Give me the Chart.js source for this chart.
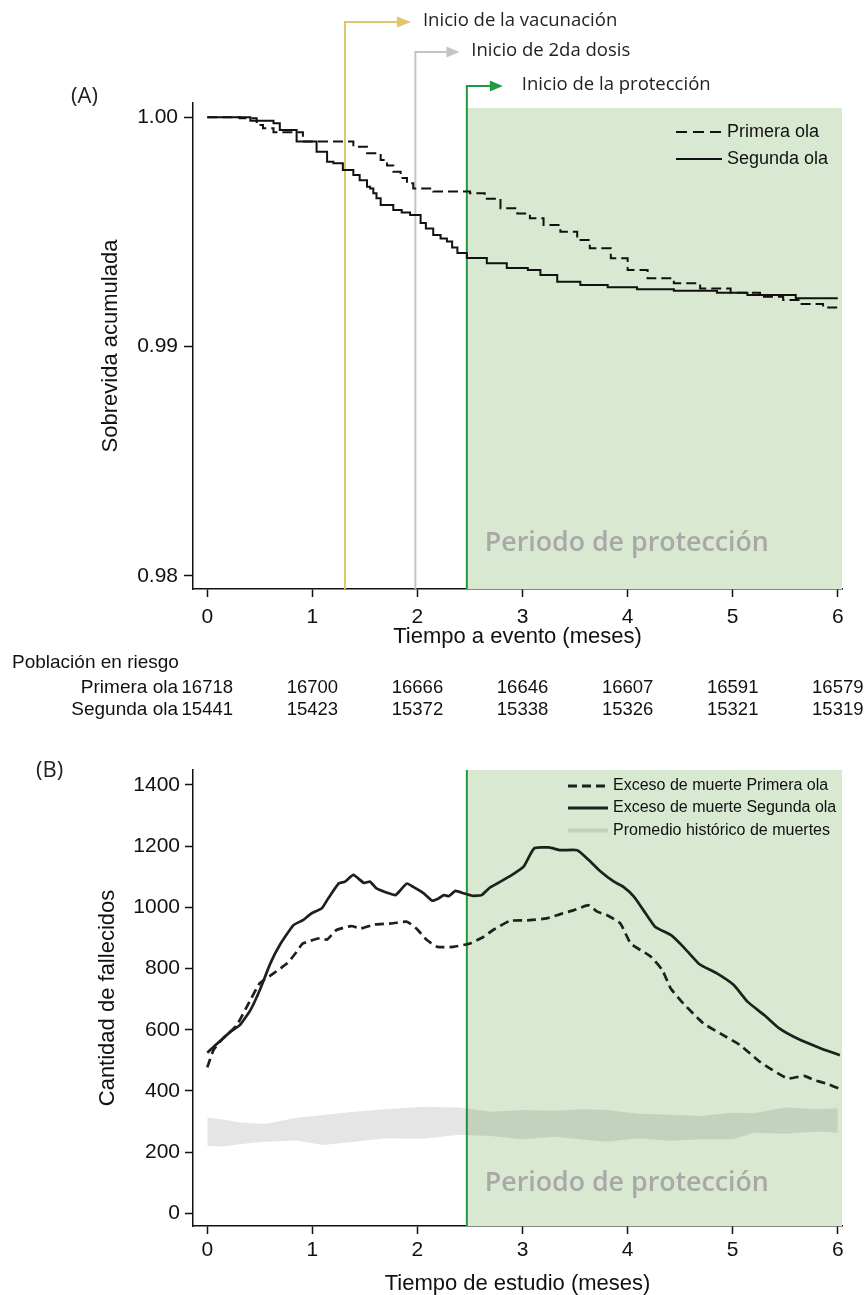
<!DOCTYPE html>
<html><head><meta charset="utf-8">
<script src="https://cdn.jsdelivr.net/npm/chart.js@4.4.1/dist/chart.umd.min.js"></script>
<style>
html,body{margin:0;padding:0;background:#fff;width:866px;height:1295px;overflow:hidden}
canvas{position:absolute;left:0}
#ca{top:0}
#cb{top:735px}
</style></head><body>
<canvas id="ca" width="866" height="735"></canvas>
<canvas id="cb" width="866" height="560"></canvas>
<script>
// ---------- DATA ----------
const xTicks = [0, 1, 2, 3, 4, 5, 6];
const yTicksA = [0.98, 0.99, 1.00];
const yTicksB = [0, 200, 400, 600, 800, 1000, 1200, 1400];

const seriesNames = ['Primera ola', 'Segunda ola'];
const kmTimePrimera = [0,0.31,0.47,0.53,0.63,0.91,1.39,1.52,1.65,1.71,1.77,1.84,1.90,1.96,2.15,2.50,2.64,2.79,2.95,3.07,3.20,3.36,3.52,3.64,3.84,4.00,4.19,4.44,4.69,4.98,5.26,5.48,5.64,5.86,6.00];
const kmSurvPrimera = [1.0,0.99996,0.99966,0.99952,0.99935,0.99894,0.99872,0.99843,0.99814,0.9979,0.99763,0.99735,0.99712,0.9969,0.99676,0.99669,0.99645,0.99603,0.99581,0.9956,0.9953,0.99501,0.99465,0.99429,0.99385,0.99334,0.99298,0.99276,0.99254,0.99235,0.99218,0.99203,0.99186,0.99171,0.99171];
const kmTimeSegunda = [0,0.31,0.41,0.63,0.69,0.85,1.04,1.14,1.20,1.29,1.39,1.45,1.52,1.55,1.58,1.61,1.65,1.77,1.85,1.93,2.03,2.08,2.15,2.22,2.28,2.33,2.38,2.47,2.66,2.85,3.05,3.17,3.33,3.55,3.81,4.09,4.44,4.85,5.14,5.60,6.00];
const kmSurvSegunda = [1.0,1.0,0.99985,0.99974,0.99945,0.99894,0.9985,0.99806,0.998,0.9977,0.99748,0.99725,0.99697,0.9969,0.99669,0.99647,0.99618,0.99596,0.99585,0.99574,0.99539,0.99515,0.99487,0.99472,0.99458,0.99432,0.99408,0.99386,0.99364,0.99343,0.99334,0.99312,0.99283,0.99269,0.99259,0.9925,0.99244,0.99235,0.99225,0.99211,0.99211];

const riskTitle = 'Población en riesgo';
const riskPrimera = [16718, 16700, 16666, 16646, 16607, 16591, 16579];
const riskSegunda = [15441, 15423, 15372, 15338, 15326, 15321, 15319];

const eventTimes = [1.31, 1.98, 2.47];
const eventLabels = ['Inicio de la vacunación', 'Inicio de 2da dosis', 'Inicio de la protección'];
const protectionStart = 2.47;
const protectionLabel = 'Periodo de protección';

const excessNames = ['Exceso de muerte Primera ola', 'Exceso de muerte Segunda ola', 'Promedio histórico de muertes'];
const exTimePrimera = [0,0.06,0.15,0.28,0.41,0.50,0.63,0.76,0.84,0.91,1.07,1.14,1.23,1.37,1.46,1.59,1.77,1.90,1.99,2.09,2.19,2.34,2.50,2.63,2.72,2.88,3.07,3.23,3.36,3.49,3.63,3.71,3.80,3.93,4.03,4.22,4.33,4.41,4.53,4.72,4.88,5.07,5.26,5.52,5.68,5.77,5.90,6.01];
const exPrimera = [477,534,572,615,697,752,784,817,850,882,899,895,926,939,931,944,948,953,931,893,871,871,882,904,926,956,958,964,978,991,1007,986,975,948,882,839,795,735,686,621,588,550,495,441,449,436,423,408];
const exTimeSegunda = [0,0.06,0.22,0.31,0.41,0.50,0.60,0.69,0.82,0.91,0.99,1.09,1.15,1.25,1.31,1.39,1.49,1.55,1.61,1.71,1.79,1.84,1.90,1.96,2.06,2.14,2.20,2.25,2.30,2.36,2.44,2.52,2.61,2.69,2.79,2.90,3.01,3.11,3.25,3.36,3.52,3.63,3.74,3.87,3.96,4.06,4.15,4.26,4.41,4.53,4.68,4.85,5.01,5.14,5.30,5.44,5.61,5.84,6.02];
const exSegunda = [525,544,593,615,664,730,817,877,942,958,980,997,1029,1078,1084,1106,1080,1084,1062,1048,1040,1057,1078,1067,1046,1022,1029,1040,1037,1054,1046,1038,1040,1065,1084,1106,1133,1193,1196,1187,1187,1155,1118,1084,1067,1035,991,937,910,871,815,784,746,692,648,605,572,539,517];
const bandTime = [0,0.15,0.3,0.55,0.85,1.1,1.4,1.7,2.05,2.4,2.7,3.0,3.3,3.55,3.8,4.1,4.4,4.7,5.0,5.2,5.5,5.8,6.0];
const bandUpper = [312,307,298,292,312,321,332,340,348,346,332,338,335,340,338,325,322,318,329,327,346,340,343];
const bandLower = [220,218,226,234,238,223,234,245,244,257,253,242,250,242,234,245,237,242,242,263,260,267,263];

// ---------- STYLE ----------
const FONT = "'Liberation Sans', Arial, sans-serif";
const FONT2 = "'Open Sans', 'Noto Sans', sans-serif";
const INK = '#111111';
const SHADE = '#d9e8d0';
const BAND = 'rgba(80,80,80,0.15)';
const EVENT_COLORS = ['#e2c46c', '#c4c4c4', '#22993f'];
const EVENT_TOP = [22, 52, 86];
const EVENT_LINE = [53, 32, 24];
const EVENT_HEAD = [13, 12, 12];
const EVENT_GAP = [12, 12, 19];
const X_MIN = -0.136, X_MAX = 6.04;

const pts = (xs, ys) => xs.map((t, i) => ({x: t, y: ys[i]}));

function xScale(title, tickPad, height, titlePad, titleLH) {
  return {
    type: 'linear', min: X_MIN, max: X_MAX,
    afterBuildTicks: s => { s.ticks = xTicks.map(v => ({value: v})); },
    afterFit: s => { s.height = height; s.paddingLeft = 0; s.paddingRight = 0; s.paddingTop = 0; s.paddingBottom = 0; },
    border: {display: true, color: INK, width: 1.5},
    grid: {display: true, drawOnChartArea: false, drawTicks: true, tickLength: 8, tickColor: INK, tickWidth: 1.5},
    ticks: {color: INK, font: {family: FONT, size: 21}, padding: tickPad, maxRotation: 0, autoSkip: false, callback: v => String(v)},
    title: {display: true, text: title, color: INK, font: {family: FONT, size: 22, lineHeight: titleLH}, padding: {top: 0, bottom: titlePad}}
  };
}
function yScale(title, min, max, ticks, fmt, tickLen, tickPad, titlePad) {
  return {
    type: 'linear', min: min, max: max,
    afterBuildTicks: s => { s.ticks = ticks.map(v => ({value: v})); },
    afterFit: s => { s.width = 193; s.paddingTop = 0; s.paddingBottom = 0; s.paddingLeft = 0; s.paddingRight = 0; },
    border: {display: true, color: INK, width: 1.5},
    grid: {display: true, drawOnChartArea: false, drawTicks: true, tickLength: tickLen, tickColor: INK, tickWidth: 1.5},
    ticks: {color: INK, font: {family: FONT, size: 21}, padding: tickPad, autoSkip: false, callback: fmt},
    title: {display: true, text: title, color: INK, font: {family: FONT, size: 22}, padding: {top: titlePad, bottom: 0}}
  };
}

function drawProtection(chart, topInset) {
  const {ctx, chartArea: a, scales: {x}} = chart;
  const px = x.getPixelForValue(protectionStart);
  ctx.save();
  ctx.fillStyle = SHADE;
  ctx.fillRect(px, a.top + topInset, a.right - px, a.bottom - a.top - topInset);
  ctx.restore();
  return px;
}
function drawProtectionLabel(chart, cy) {
  const {ctx, scales: {x}} = chart;
  const px = x.getPixelForValue(protectionStart);
  ctx.save();
  ctx.font = "600 40px " + FONT2;
  const w = ctx.measureText(protectionLabel).width;
  const size = 40 * 284 / w;
  ctx.font = "600 " + size.toFixed(2) + "px " + FONT2;
  ctx.fillStyle = '#a8a8a8';
  ctx.textBaseline = 'middle';
  ctx.textAlign = 'left';
  ctx.fillText(protectionLabel, px + 18, cy);
  ctx.restore();
}
function drawLegend(chart, items, x0, x1, tx, ys, font) {
  const ctx = chart.ctx;
  ctx.save();
  items.forEach((it, i) => {
    ctx.beginPath();
    ctx.strokeStyle = it.color;
    ctx.lineWidth = it.width;
    ctx.setLineDash(it.dash || []);
    ctx.moveTo(x0, ys[i]); ctx.lineTo(x1, ys[i]);
    ctx.stroke();
    ctx.setLineDash([]);
    ctx.fillStyle = INK;
    ctx.font = font;
    ctx.textBaseline = 'middle';
    ctx.textAlign = 'left';
    ctx.fillText(it.label, tx, ys[i]);
  });
  ctx.restore();
}

// ---------- CHART A ----------
const plugA = {
  id: 'plugA',
  beforeDatasetsDraw(chart) {
    const {ctx, chartArea: a, scales: {x}} = chart;
    drawProtection(chart, 5);
    drawProtectionLabel(chart, 543);
    ctx.save();
    eventTimes.forEach((t, i) => {
      const xp = x.getPixelForValue(t);
      const ty = EVENT_TOP[i];
      ctx.strokeStyle = EVENT_COLORS[i];
      ctx.fillStyle = EVENT_COLORS[i];
      ctx.lineWidth = 2;
      ctx.beginPath();
      ctx.moveTo(xp, a.bottom);
      ctx.lineTo(xp, ty);
      ctx.lineTo(xp + EVENT_LINE[i], ty);
      ctx.stroke();
      ctx.beginPath();
      ctx.moveTo(xp + EVENT_LINE[i] - 1, ty - 5.5);
      ctx.lineTo(xp + EVENT_LINE[i] + EVENT_HEAD[i], ty);
      ctx.lineTo(xp + EVENT_LINE[i] - 1, ty + 5.5);
      ctx.closePath();
      ctx.fill();
      ctx.fillStyle = '#222';
      ctx.font = "18.5px " + FONT2;
      ctx.textBaseline = 'middle';
      ctx.textAlign = 'left';
      ctx.fillText(eventLabels[i], xp + EVENT_LINE[i] + EVENT_HEAD[i] + EVENT_GAP[i], ty - 1);
    });
    ctx.restore();
  },
  afterDraw(chart) {
    const {ctx, scales: {x}} = chart;
    const ds = chart.data.datasets;
    drawLegend(chart, [
      {label: ds[0].label, color: ds[0].borderColor, width: 2, dash: [11, 6]},
      {label: ds[1].label, color: ds[1].borderColor, width: 2}
    ], 676, 722, 727, [132, 159], "18px " + FONT);
    ctx.save();
    ctx.fillStyle = '#222';
    ctx.font = "22px " + FONT2;
    ctx.textBaseline = 'middle';
    ctx.textAlign = 'left';
    ctx.fillText('(A)', 71, 97);
    ctx.fillStyle = INK;
    ctx.font = "19px " + FONT;
    ctx.fillText(riskTitle, 12, 663);
    ctx.textAlign = 'right';
    ctx.fillText(seriesNames[0], 178, 688);
    ctx.fillText(seriesNames[1], 178, 710);
    ctx.textAlign = 'center';
    ctx.font = "18.5px " + FONT;
    xTicks.forEach((t, i) => {
      const xp = x.getPixelForValue(t);
      ctx.fillText(String(riskPrimera[i]), xp, 688);
      ctx.fillText(String(riskSegunda[i]), xp, 710);
    });
    ctx.restore();
  }
};

new Chart(document.getElementById('ca'), {
  type: 'line',
  data: {
    datasets: [
      {label: seriesNames[0], data: pts(kmTimePrimera, kmSurvPrimera), borderColor: INK, borderWidth: 2, borderDash: [10, 5], stepped: true, pointRadius: 0, fill: false},
      {label: seriesNames[1], data: pts(kmTimeSegunda, kmSurvSegunda), borderColor: INK, borderWidth: 2, stepped: true, pointRadius: 0, fill: false}
    ]
  },
  options: {
    responsive: false, animation: false, devicePixelRatio: 1,
    layout: {padding: {top: 103, right: 24, bottom: 0, left: 0}},
    plugins: {legend: {display: false}, tooltip: {enabled: false}},
    scales: {
      x: xScale('Tiempo a evento (meses)', 8, 146, 85, 1.2),
      y: yScale('Sobrevida acumulada', 0.979433, 1.000623, yTicksA, v => Number(v).toFixed(2), 9, 6, 98)
    }
  },
  plugins: [plugA]
});

// ---------- CHART B ----------
const plugB = {
  id: 'plugB',
  beforeDatasetsDraw(chart) {
    const {ctx, chartArea: a} = chart;
    const px = drawProtection(chart, 0);
    drawProtectionLabel(chart, 448);
    ctx.save();
    ctx.strokeStyle = EVENT_COLORS[2];
    ctx.lineWidth = 2;
    ctx.beginPath();
    ctx.moveTo(px, a.top); ctx.lineTo(px, a.bottom);
    ctx.stroke();
    ctx.restore();
  },
  afterDraw(chart) {
    const {ctx} = chart;
    const ds = chart.data.datasets;
    drawLegend(chart, [
      {label: ds[0].label, color: ds[0].borderColor, width: 3, dash: [9, 5]},
      {label: ds[1].label, color: ds[1].borderColor, width: 3},
      {label: ds[3].label, color: BAND, width: 4}
    ], 568, 608, 613, [51, 73, 95.5], "16px " + FONT);
    ctx.save();
    ctx.fillStyle = '#222';
    ctx.font = "22px " + FONT2;
    ctx.textBaseline = 'middle';
    ctx.textAlign = 'left';
    ctx.fillText('(B)', 36, 36);
    ctx.restore();
  }
};

const LINEB = '#1b211d';
new Chart(document.getElementById('cb'), {
  type: 'line',
  data: {
    datasets: [
      {label: excessNames[0], data: pts(exTimePrimera, exPrimera), borderColor: LINEB, borderWidth: 2.7, borderDash: [9, 5], pointRadius: 0, fill: false, tension: 0.15},
      {label: excessNames[1], data: pts(exTimeSegunda, exSegunda), borderColor: LINEB, borderWidth: 2.7, pointRadius: 0, fill: false, tension: 0.15},
      {label: 'lower', data: pts(bandTime, bandLower), borderWidth: 0, pointRadius: 0, fill: false},
      {label: excessNames[2], data: pts(bandTime, bandUpper), borderWidth: 0, pointRadius: 0, fill: '-1', backgroundColor: BAND}
    ]
  },
  options: {
    responsive: false, animation: false, devicePixelRatio: 1,
    layout: {padding: {top: 35, right: 24, bottom: 0, left: 0}},
    plugins: {legend: {display: false}, tooltip: {enabled: false}, filler: {propagate: false}},
    scales: {
      x: xScale('Tiempo de estudio (meses)', 4, 69, 0, 1.0),
      y: yScale('Cantidad de fallecidos', -41.5, 1449, yTicksB, v => String(v), 8, 5, 95)
    }
  },
  plugins: [plugB]
});
</script>
</body></html>
